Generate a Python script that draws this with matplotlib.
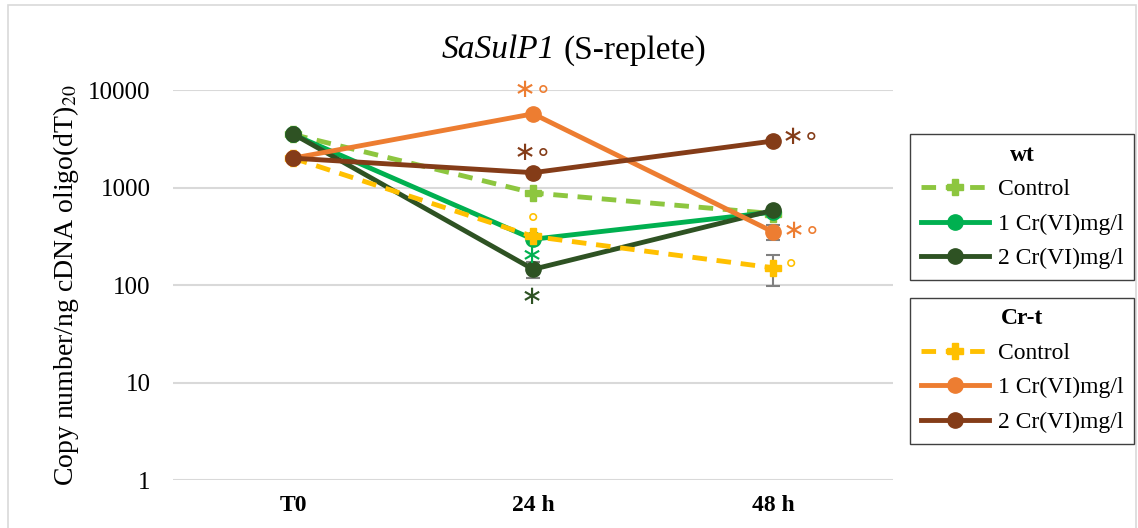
import numpy as np
import matplotlib
import matplotlib.pyplot as plt
from matplotlib.patches import Rectangle

matplotlib.rc("font", family="Liberation Serif", size=18)

times = ["T0", "24 h", "48 h"]

wt_control = [3500, 880, 540]
wt_cr1 = [3500, 295, 560]
wt_cr2 = [3550, 145, 585]
crt_control = [2000, 315, 150]
crt_cr1 = [2000, 5700, 350]
crt_cr2 = [2000, 1420, 3000]

wt_cr2_err = [0, 28, 0]
crt_cr1_err = [0, 0, 60]
crt_control_err = [0, 0, 52]

series = [
    ("Control", wt_control, "#8dc63f", "--", "P", None),
    ("1 Cr(VI)mg/l", wt_cr1, "#00b050", "-", "o", None),
    ("2 Cr(VI)mg/l", wt_cr2, "#2e5223", "-", "o", wt_cr2_err),
    ("Control", crt_control, "#ffc000", "--", "P", crt_control_err),
    ("1 Cr(VI)mg/l", crt_cr1, "#ed7d31", "-", "o", crt_cr1_err),
    ("2 Cr(VI)mg/l", crt_cr2, "#843c18", "-", "o", None),
]

# significance marks: series index, time index, text, offset (pt)
marks = [
    (4, 1, "\u2217\u2218", (0, 17)),
    (5, 1, "\u2217\u2218", (0, 14)),
    (3, 1, "\u2218", (0, 13)),
    (1, 1, "\u2217", (-1, -12)),
    (2, 1, "\u2217", (-1, -20)),
    (5, 2, "\u2217\u2218", (20, 3)),
    (4, 2, "\u2217\u2218", (21, 1)),
    (3, 2, "\u2218", (13, 3)),
]

fig = plt.figure(figsize=(11.38, 5.28), dpi=100)
ax = fig.add_axes([0.152, 0.0909, 0.633, 0.7386])

x = np.arange(len(times)) + 0.5
handles = []
for label, vals, col, ls, mk, err in series:
    if err is not None:
        ax.errorbar(x, vals, yerr=err, fmt="none", ecolor="#808080",
                    elinewidth=1.5, capsize=5, capthick=1.5, zorder=2)
    h, = ax.plot(x, vals, color=col, linestyle=ls, linewidth=3.5,
                 marker=mk, markersize=11, dashes=(3, 2) if ls == "--" else (None, None),
                 zorder=3)
    handles.append(h)

for si, ti, txt, off in marks:
    ax.annotate(txt, (x[ti], series[si][1][ti]), xytext=off,
                textcoords="offset points", ha="center", va="center",
                color=series[si][2], fontsize=19, family=["DejaVu Sans"])

ax.set_yscale("log")
ax.set_ylim(1, 10000)
ax.set_xlim(0, 3)
ax.set_yticks([1, 10, 100, 1000, 10000])
ax.set_yticklabels(["1", "10", "100", "1000", "10000"])
ax.minorticks_off()
ax.set_xticks(x)
ax.set_xticklabels(times, fontweight="bold", fontsize=17)
ax.tick_params(axis="y", length=0, pad=16)
ax.tick_params(axis="x", length=0, pad=11)
ax.grid(axis="y", color="#d9d9d9", linewidth=1.5)
ax.set_axisbelow(True)
for s in ax.spines.values():
    s.set_visible(False)
ax.set_ylabel("Copy number/ng cDNA oligo(dT)$_{20}$", fontsize=20, labelpad=5,
              math_fontfamily="stix")

fig.text(0.488, 0.905, "SaSulP1", ha="right", va="center", fontsize=24, style="italic")
fig.text(0.495, 0.905, "(S-replete)", ha="left", va="center", fontsize=24)

leg_kw = dict(loc="upper left", bbox_transform=fig.transFigure, fancybox=False,
              edgecolor="#404040", framealpha=1, fontsize=17, title_fontsize=17,
              handlelength=2.9, handletextpad=0.35, labelspacing=0.55,
              borderpad=0.45, borderaxespad=0)
leg1 = fig.legend(handles[:3], [s[0] for s in series[:3]], title="wt",
                  bbox_to_anchor=(0.8, 0.746), **leg_kw)
leg1.get_title().set_fontweight("bold")
leg2 = fig.legend(handles[3:], [s[0] for s in series[3:]], title="Cr-t",
                  bbox_to_anchor=(0.8, 0.436), **leg_kw)
leg2.get_title().set_fontweight("bold")

fig.patches.append(Rectangle((0.007, -0.01), 0.991, 1.0, transform=fig.transFigure,
                             fill=False, edgecolor="#d9d9d9", linewidth=1.2))

fig.savefig("out.png", dpi=100)
